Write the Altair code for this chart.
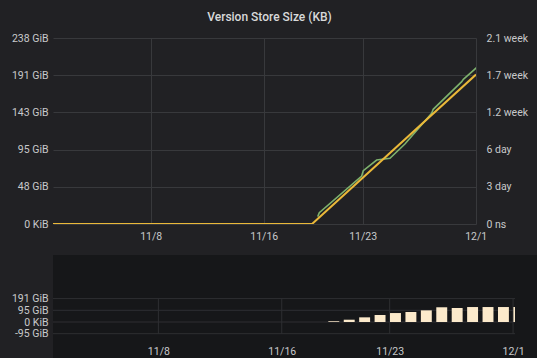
import altair as alt
import pandas as pd

# ---------------- data ----------------
# Top panel, green series (left axis, GiB)
green_time = ["2019-11-19T19:40:00Z", "2019-11-19T22:20:00Z", "2019-11-22T22:20:00Z",
              "2019-11-23T01:00:00Z", "2019-11-23T23:45:00Z", "2019-11-24T22:20:00Z",
              "2019-11-25T23:45:00Z", "2019-11-27T21:10:00Z", "2019-11-27T23:50:00Z",
              "2019-11-30T00:15:00Z", "2019-11-30T03:00:00Z", "2019-12-01T03:20:00Z"]
green_gib = [9.4, 14.5, 61.5, 68.3, 82.0, 84.2, 102.5, 141.9, 147.0, 182.5, 185.5, 201.6]

# Top panel, yellow series (right axis, days)
yellow_time = ["2019-11-01T00:00:00Z", "2019-11-19T10:00:00Z", "2019-12-01T00:30:00Z"]
yellow_days = [0, 0, 12.05]

# Bottom panel, daily bars (GiB)
bar_day = ["2019-11-19", "2019-11-20", "2019-11-21", "2019-11-22", "2019-11-23",
           "2019-11-24", "2019-11-25", "2019-11-26", "2019-11-27", "2019-11-28",
           "2019-11-29", "2019-11-30", "2019-12-01"]
bar_gib = [6, 18.7, 38, 57, 73, 81.5, 95, 120, 114, 122, 122, 122, 122]

# Axis ticks / labels
x_tick_dates = ["2019-11-08", "2019-11-16", "2019-11-23", "2019-12-01"]
left_ticks = [0, 47.68, 95.37, 143.05, 190.73, 238.42]
left_labels = ["0 KiB", "48 GiB", "95 GiB", "143 GiB", "191 GiB", "238 GiB"]
right_ticks = [0, 3, 6, 9, 12, 15]
right_labels = ["0 ns", "3 day", "6 day", "1.2 week", "1.7 week", "2.1 week"]
bottom_ticks = [-95.37, 0, 95.37, 190.73]
bottom_labels = ["-95 GiB", "0 KiB", "95 GiB", "191 GiB"]

title_text = "Version Store Size (KB)"

# ---------------- helpers ----------------
def ms(s):
    ts = pd.Timestamp(s)
    if ts.tzinfo is None:
        ts = ts.tz_localize("UTC")
    return int(ts.timestamp() * 1000)


def label_expr(values, labels):
    expr = "''"
    for v, l in reversed(list(zip(values, labels))):
        expr = f"abs(datum.value - ({v})) < 0.01 ? '{l}' : ({expr})"
    return expr


BG = "#212124"
BG2 = "#161719"
GRID = "#38393c"
GRID2 = "#2e2f32"
LABEL = "#c8c9cb"
FONT = "Roboto"
DAY = 86400000

x_ticks_ms = [ms(d) for d in x_tick_dates]
x_label_expr = "utcFormat(datum.value, '%-m/%-d')"

# time ranges of the two panels
top_domain = [ms("2019-11-01T02:00:00Z"), ms("2019-12-01T00:30:00Z")]
bot_range = [ms("2019-11-01T04:00:00Z"), ms("2019-12-01T03:00:00Z")]

# ---- bottom panel geometry (dark panel = the view, plot band inside it) ----
BOT_W, BOT_H = 484, 103
PLOT_R = 462                      # right end of the plotting band (px)
ZERO_Y, LOW_Y = 67, 79            # y of 0 GiB and of the lowest gridline (px)
PX_PER_GIB = 11.7 / 95.37
px_day = PLOT_R / ((bot_range[1] - bot_range[0]) / DAY)
bot_domain = [bot_range[0], bot_range[1] + (BOT_W - PLOT_R) / px_day * DAY]
bot_y_domain = [-(BOT_H - ZERO_Y) / PX_PER_GIB, ZERO_Y / PX_PER_GIB]

green_df = pd.DataFrame({"t": [ms(t) for t in green_time], "v": green_gib})
yellow_df = pd.DataFrame({"t": [ms(t) for t in yellow_time], "v": yellow_days})
bar_df = pd.DataFrame({
    "start": [min(ms(d) + int(0.5 * 3600000), bot_range[1]) for d in bar_day],
    "end": [min(ms(d) + int(17.5 * 3600000), bot_range[1]) for d in bar_day],
    "v": bar_gib,
})
xgrid_df = pd.DataFrame({"t": x_ticks_ms})
ygrid_df = pd.DataFrame({"v": bottom_ticks})


def top_x():
    return alt.X(
        "t:T",
        scale=alt.Scale(type="utc", domain=top_domain, nice=False),
        axis=alt.Axis(values=x_ticks_ms, labelExpr=x_label_expr, title=None,
                      grid=True, gridColor=GRID, ticks=False, domain=False,
                      labelPadding=7, labelFontSize=10.5, labelColor=LABEL,
                      labelFont=FONT, labelFlush=False),
    )


green = alt.Chart(green_df).mark_line(color="#7EB26D", strokeWidth=1.6, clip=True).encode(
    x=top_x(),
    y=alt.Y("v:Q",
            scale=alt.Scale(domain=[0, 238.42], nice=False, zero=False),
            axis=alt.Axis(values=left_ticks, labelExpr=label_expr(left_ticks, left_labels),
                          title=None, grid=True, gridColor=GRID, ticks=False, domain=False,
                          labelPadding=5, labelFontSize=10.5, labelColor=LABEL,
                          labelFont=FONT, orient="left")),
)

yellow = alt.Chart(yellow_df).mark_line(color="#EAB839", strokeWidth=2, clip=True).encode(
    x=top_x(),
    y=alt.Y("v:Q",
            scale=alt.Scale(domain=[0, 15], nice=False, zero=False),
            axis=alt.Axis(values=right_ticks, labelExpr=label_expr(right_ticks, right_labels),
                          title=None, grid=False, ticks=False, domain=False,
                          labelPadding=10, labelFontSize=10.5, labelColor=LABEL,
                          labelFont=FONT, orient="right")),
)

top = alt.layer(green, yellow).resolve_scale(y="independent").properties(
    width=423, height=186,
    title=alt.TitleParams(title_text, anchor="middle", frame="bounds", fontSize=12,
                          font=FONT, fontWeight=500, color="#d8d9da", offset=9),
)

# ---------------- bottom panel ----------------
bot_y_scale = alt.Scale(domain=bot_y_domain, nice=False, zero=False)
bot_x_scale = alt.Scale(type="utc", domain=bot_domain, nice=False)

xgrid = alt.Chart(xgrid_df).mark_rule(color=GRID2, strokeWidth=1).encode(
    x=alt.X("t:T", scale=bot_x_scale, axis=None),
    y=alt.YDatum(bottom_ticks[0], scale=bot_y_scale, axis=None),
    y2=alt.datum(bottom_ticks[-1]),
)

ygrid = alt.Chart(ygrid_df).mark_rule(color=GRID2, strokeWidth=1).encode(
    x=alt.XDatum(bot_range[0], type="temporal", scale=bot_x_scale, axis=None),
    x2=alt.datum(bot_range[1]),
    y=alt.Y("v:Q", scale=bot_y_scale, axis=None),
)

bars = alt.Chart(bar_df).mark_bar(color="#FCEACB", clip=True).encode(
    x=alt.X("start:T", scale=bot_x_scale,
            axis=alt.Axis(values=x_ticks_ms, labelExpr=x_label_expr, title=None,
                          grid=False, ticks=False, domain=False, labelPadding=12,
                          offset=-(BOT_H - LOW_Y),
                          labelFontSize=10.5, labelColor=LABEL, labelFont=FONT,
                          labelFlush=False, labelOverlap=False)),
    x2="end:T",
    y=alt.Y("v:Q", scale=bot_y_scale,
            axis=alt.Axis(values=bottom_ticks, labelExpr=label_expr(bottom_ticks, bottom_labels),
                          title=None, grid=False, ticks=False, domain=False,
                          labelPadding=5, labelFontSize=10.5, labelColor=LABEL,
                          labelFont=FONT, labelOverlap=False, labelBound=False)),
    y2=alt.datum(0),
)

bottom = alt.layer(xgrid, ygrid, bars).resolve_axis(x="independent", y="independent").properties(
    width=BOT_W, height=BOT_H,
    view=alt.ViewBackground(fill=BG2, stroke=None),
)

chart = alt.vconcat(top, bottom, spacing=13).properties(
    background=BG,
    padding={"left": 11, "top": 11, "right": 0, "bottom": 0},
).configure_view(stroke=None).configure_axis(labelOverlap=False)

chart.save("out.html", embed_options={"renderer": "svg", "actions": False})
